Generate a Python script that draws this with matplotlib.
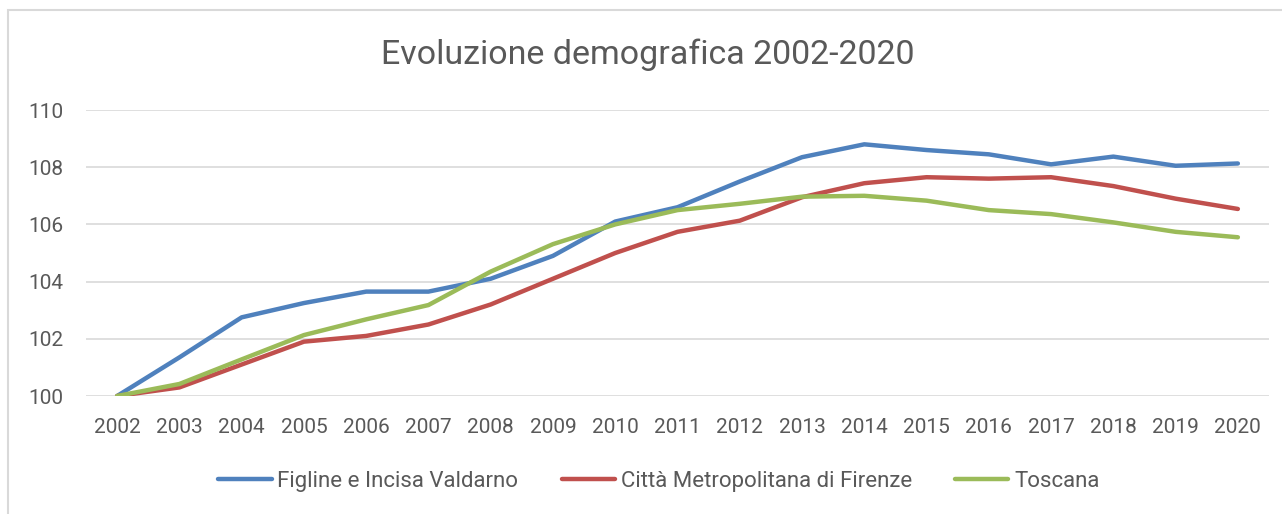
"""Evoluzione demografica 2002-2020 (indice, 2002 = 100)."""
import matplotlib.pyplot as plt
from matplotlib.patches import Rectangle

YEARS = [str(y) for y in range(2002, 2021)]

FIGLINE = [100.0, 101.35, 102.75, 103.25, 103.65, 103.65, 104.1, 104.9, 106.1,
           106.6, 107.5, 108.35, 108.8, 108.6, 108.45, 108.1, 108.37, 108.05, 108.13]
FIRENZE = [100.0, 100.3, 101.1, 101.9, 102.1, 102.5, 103.2, 104.1, 105.0,
           105.74, 106.13, 106.95, 107.44, 107.65, 107.6, 107.65, 107.34, 106.9, 106.54]
TOSCANA = [100.0, 100.42, 101.28, 102.13, 102.68, 103.18, 104.35, 105.31, 106.0,
           106.5, 106.72, 106.97, 107.0, 106.83, 106.5, 106.36, 106.07, 105.74, 105.55]

SERIES = [
    ("Figline e Incisa Valdarno", FIGLINE, "#4F81BD"),
    ("Città Metropolitana di Firenze", FIRENZE, "#C0504D"),
    ("Toscana", TOSCANA, "#9BBB59"),
]

TEXT = "#595959"
GRID = "#D9D9D9"

plt.rcParams["font.family"] = ["Roboto", "DejaVu Sans"]

fig = plt.figure(figsize=(12.82, 5.14), dpi=100)
ax = fig.add_axes([86 / 1282, 118 / 514, (1269 - 86) / 1282, (396 - 110) / 514])

x = range(len(YEARS))
for name, vals, color in SERIES:
    ax.plot(x, vals, color=color, linewidth=3.2, label=name,
            solid_capstyle="round", solid_joinstyle="round")

ax.set_xlim(-0.5, len(YEARS) - 0.5)
ax.set_ylim(100, 110)
ax.set_yticks(range(100, 111, 2))
ax.set_xticks(list(x))
ax.set_xticklabels(YEARS)
ax.grid(axis="y", color=GRID, linewidth=1.2)
ax.set_axisbelow(True)
for s in ax.spines.values():
    s.set_visible(False)
ax.tick_params(axis="both", length=0, labelsize=15, labelcolor=TEXT)
ax.tick_params(axis="y", pad=16)
ax.tick_params(axis="x", pad=16)

fig.text(0.505, 1 - 55 / 514, "Evoluzione demografica 2002-2020",
         ha="center", va="center", fontsize=24.5, color=TEXT)

fig.legend(loc="center", bbox_to_anchor=(0.514, 0.064), ncol=3, frameon=False,
           fontsize=16, labelcolor=TEXT, handlelength=2.4, handletextpad=0.25,
           columnspacing=1.95)

# light chart border (Excel style)
fig.patches.append(Rectangle((8 / 1282, -0.1), 1.2, (514 - 10) / 514 + 0.1,
                             transform=fig.transFigure, fill=False,
                             edgecolor=GRID, linewidth=1.5))

fig.savefig("out.png", dpi=100)
